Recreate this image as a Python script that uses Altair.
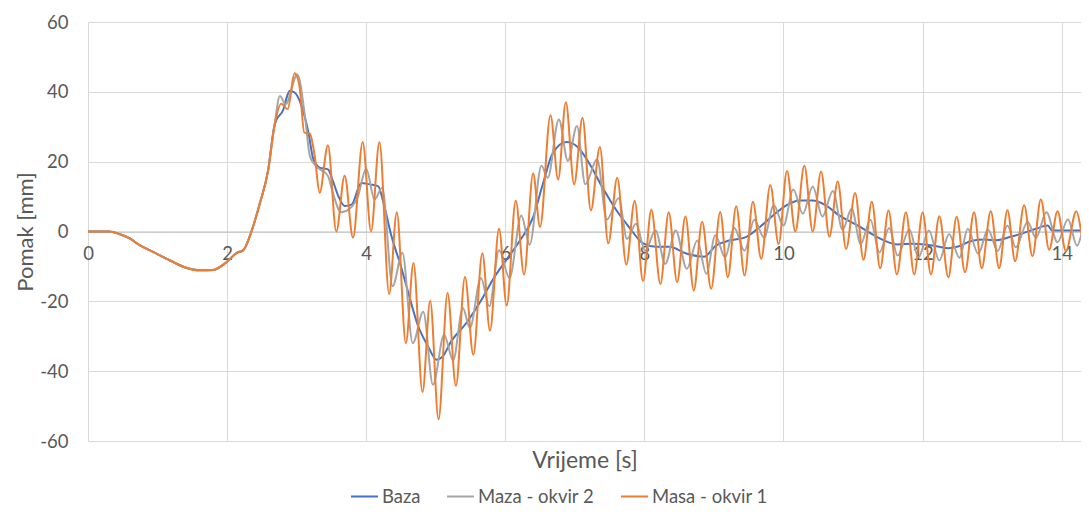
import altair as alt
import pandas as pd

# ---- data ----
series_names = ["Baza", "Maza - okvir 2", "Masa - okvir 1"]
series_colors = ["#4472C4", "#A5A5A5", "#ED7D31"]

# common start (all three series coincide)
t_start = [0, 0.3, 0.45, 0.6, 0.75, 0.95, 1.18, 1.4, 1.61, 1.8, 1.99, 2.14, 2.23, 2.35, 2.47, 2.59, 2.68]
y_start = [0, 0, -0.7, -2, -4, -6, -8.3, -10.3, -11.1, -11, -8.8, -6.1, -5.4, 0, 8, 17.5, 30.2]

baza_t = [2.71, 2.81, 2.85, 2.90, 2.97, 3.07, 3.17, 3.24, 3.33, 3.45, 3.52, 3.60, 3.69, 3.79, 3.93,
          4.05, 4.17, 4.26, 4.36, 4.50, 4.62, 4.74, 4.89, 5.01, 5.10, 5.22, 5.44, 5.66, 5.82, 6.02,
          6.21, 6.40, 6.54, 6.68, 6.88, 7.04, 7.21, 7.40, 7.59, 7.79, 7.98, 8.17, 8.36, 8.60, 8.86,
          9.03, 9.22, 9.46, 9.66, 9.85, 10.04, 10.23, 10.42, 10.61, 10.80, 11.07, 11.26, 11.45, 11.64,
          11.84, 12.03, 12.22, 12.37, 12.51, 12.70, 12.89, 13.06, 13.25, 13.44, 13.63, 13.80, 13.86,
          14.0, 14.5]
baza_y = [32.0, 35.0, 37.9, 40.3, 39.8, 36.0, 28.3, 20.7, 18.3, 17.8, 14.5, 10.1, 7.3, 7.7, 13.9,
          13.5, 13.0, 7.3, -1.1, -10.0, -18.6, -26.7, -32.9, -36.7, -35.8, -31.5, -26.2, -19.5, -13.8, -8.0,
          -2.6, 4.1, 13.6, 22.3, 25.6, 24.2, 19.4, 12.5, 6.3, 1.0, -3.4, -4.4, -4.4, -6.3, -7.2,
          -4.0, -2.6, -1.6, 1.3, 4.6, 7.5, 8.9, 8.9, 7.5, 4.6, 1.7, -0.6, -2.6, -3.7,
          -3.5, -3.7, -4.3, -4.8, -4.3, -2.7, -2.3, -2.5, -1.6, -0.5, 0.8, 1.7, 0.3,
          0.3, 0.3]

maza_t = [2.76, 2.84, 3.01, 3.12, 3.19, 3.28, 3.45, 3.52, 3.64, 3.76, 3.88, 4.00, 4.12, 4.23, 4.38,
          4.52, 4.67, 4.82, 4.96, 5.12, 5.25, 5.39, 5.49, 5.65, 5.77, 5.91, 6.06, 6.23, 6.35, 6.52,
          6.61, 6.77, 6.90, 7.03, 7.15, 7.32, 7.46, 7.63, 7.75, 7.88, 8.01, 8.16, 8.30, 8.45, 8.61,
          8.76, 8.89, 9.02, 9.16, 9.29, 9.44, 9.58, 9.72, 9.86, 10.00, 10.14, 10.28, 10.42, 10.56,
          10.71, 10.85, 10.98, 11.11, 11.25, 11.38, 11.52, 11.64, 11.81, 11.94, 12.09, 12.24, 12.38,
          12.53, 12.65, 12.80, 12.94, 13.08, 13.22, 13.34, 13.51, 13.63, 13.78, 13.94, 14.09, 14.22,
          14.36, 14.50]
maza_y = [38.8, 36.4, 45.0, 33.0, 21.6, 18.7, 15.9, 11.1, 5.5, 6.5, 10.0, 18.0, 9.2, 12.5, -15.7,
          -6.1, -32.0, -23.0, -43.9, -29.6, -36.9, -21.9, -27.6, -13.3, -21.4, -5.4, -13.3, 4.6, -3.8, 18.8,
          15.4, 32.1, 20.2, 30.2, 13.5, 20.7, 3.4, 9.5, -2.1, 2.2, -5.5, 0.3, -9.3, 0.3, -10.7,
          -2.6, -12.1, -1.1, -7.4, 1.1, -5.5, 3.4, -1.8, 7.5, 1.7, 12.0, 5.1, 12.9, 4.3,
          11.6, 0.5, 6.5, -3.6, 3.4, -6.0, 1.0, -6.9, 0.6, -7.4, 0.3, -8.3, -0.7,
          -7.5, 0.8, -6.4, 0.6, -5.6, 1.7, -4.5, 2.7, -1.8, 5.5, -3.1, 3.5, -4.1,
          3.5, -3.0]

masa_t = [2.78, 2.87, 2.97, 3.04, 3.11, 3.19, 3.26, 3.33, 3.45, 3.57, 3.69, 3.81, 3.95, 4.07, 4.19,
          4.33, 4.44, 4.57, 4.68, 4.81, 4.92, 5.04, 5.17, 5.29, 5.42, 5.54, 5.67, 5.78, 5.91, 6.02,
          6.15, 6.27, 6.40, 6.50, 6.65, 6.76, 6.87, 6.99, 7.11, 7.23, 7.36, 7.48, 7.61, 7.74, 7.86,
          7.98, 8.10, 8.23, 8.35, 8.47, 8.59, 8.71, 8.83, 8.96, 9.09, 9.20, 9.32, 9.44, 9.56, 9.68,
          9.81, 9.93, 10.05, 10.17, 10.30, 10.42, 10.54, 10.66, 10.78, 10.90, 11.03, 11.15, 11.27,
          11.39, 11.51, 11.63, 11.76, 11.88, 12.00, 12.12, 12.24, 12.37, 12.49, 12.61, 12.74, 12.85,
          12.98, 13.10, 13.22, 13.33, 13.46, 13.58, 13.70, 13.82, 13.94, 14.06, 14.21, 14.33, 14.45]
masa_y = [36.6, 35.0, 45.3, 41.7, 28.3, 28.0, 21.6, 11.1, 24.7, 0.0, 16.0, -1.7, 25.6, 0.0, 25.6,
          -17.9, 5.5, -32.0, -9.0, -46.0, -19.8, -53.8, -17.6, -44.2, -13.0, -35.3, -6.2, -28.4, 0.8, -21.2,
          8.8, -12.3, 16.6, 1.3, 33.3, 14.9, 37.0, 13.5, 32.6, 6.0, 24.2, -3.4, 15.4, -9.5, 8.8,
          -14.2, 6.2, -15.0, 5.5, -14.5, 4.3, -16.9, 2.8, -16.4, 5.6, -13.1, 7.2, -12.6, 8.5, -7.8,
          13.3, -3.6, 17.3, 0.0, 18.8, 0.0, 17.2, -1.5, 14.3, -5.0, 11.0, -8.1, 8.5,
          -10.5, 6.0, -12.3, 5.5, -12.3, 5.5, -12.3, 4.4, -13.1, 4.2, -11.7, 5.5, -10.5,
          5.8, -10.5, 6.1, -8.5, 7.5, -7.1, 9.2, -5.2, 5.8, -5.6, 5.8, -3.5, 5.0]

x_ticks = [0, 2, 4, 6, 8, 10, 12, 14]
y_ticks = [-60, -40, -20, 0, 20, 40, 60]

# ---- build table ----
rows = []
for name, ts, ys in [(series_names[0], baza_t, baza_y),
                     (series_names[1], maza_t, maza_y),
                     (series_names[2], masa_t, masa_y)]:
    for t, y in zip(t_start + ts, y_start + ys):
        rows.append({"t": t, "y": y, "series": name})
df = pd.DataFrame(rows)

FONT = "Lato"
TXT = "#595959"
W, H = 993, 419
X_MAX = W / 69.55

chart = alt.Chart(df).mark_line(interpolate="monotone", clip=True, strokeWidth=2).encode(
    x=alt.X("t:Q",
            scale=alt.Scale(domain=[0, X_MAX], nice=False, zero=False),
            axis=alt.Axis(values=x_ticks, title="Vrijeme [s]", offset=-209.5,
                          ticks=False, domain=True, domainColor="#BFBFBF", domainWidth=1,
                          grid=True, gridColor="#D9D9D9", gridWidth=1,
                          labelFont=FONT, labelFontSize=18.5, labelColor=TXT,
                          labelPadding=13, labelFlush=False, labelOverlap=False,
                          labelExpr="'' + datum.value",
                          titleFont=FONT, titleFontSize=23, titleColor=TXT, titleFontWeight="normal",
                          titleBaseline="alphabetic", titleY=236)),
    y=alt.Y("y:Q",
            scale=alt.Scale(domain=[-60, 60], nice=False),
            axis=alt.Axis(values=y_ticks, title="Pomak [mm]", ticks=False, domain=False,
                          grid=True, gridColor="#D9D9D9", gridWidth=1,
                          labelFont=FONT, labelFontSize=18.5, labelColor=TXT, labelPadding=20,
                          labelExpr="'' + datum.value",
                          titleFont=FONT, titleFontSize=22, titleColor=TXT, titleFontWeight="normal",
                          titleAngle=270, titleAlign="center", titleBaseline="middle",
                          titleX=-63, titleY=H / 2)),
    color=alt.Color("series:N",
                    scale=alt.Scale(domain=series_names, range=series_colors),
                    legend=alt.Legend(title=None, orient="none", direction="horizontal",
                                      legendX=262, legendY=460,
                                      symbolType="M-1,0L1,0", symbolSize=729, symbolStrokeWidth=2,
                                      labelFont=FONT, labelFontSize=18.5, labelColor=TXT,
                                      labelOffset=3, columnPadding=22)),
    order=alt.Order("series_order:Q"),
).transform_calculate(
    series_order="indexof(['Baza','Maza - okvir 2','Masa - okvir 1'], datum.series)"
).properties(
    width=W, height=H,
    autosize=alt.AutoSizeParams(type="none"),
    padding={"left": 80, "top": 14, "right": 0, "bottom": 66},
).configure_view(stroke=None)

chart.save("out.html", embed_options={"renderer": "svg", "actions": False})
